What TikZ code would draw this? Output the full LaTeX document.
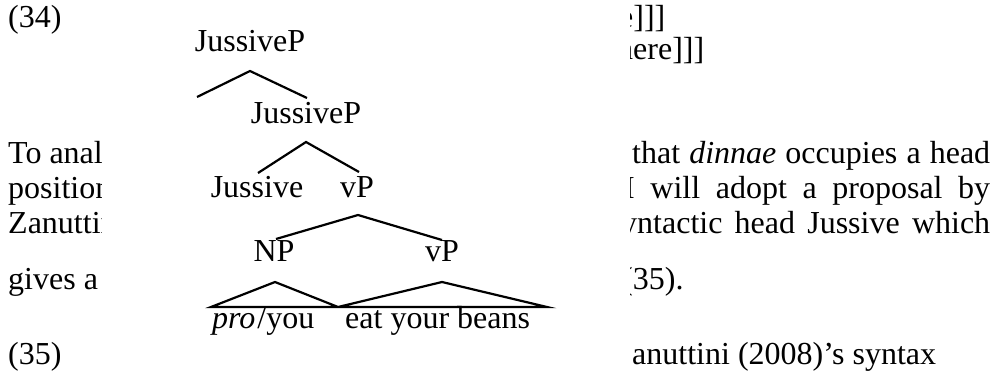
\documentclass[tikz,border=0pt]{standalone}
\usepackage{fontspec}
\setmainfont{Liberation Serif}
\begin{document}
\begin{tikzpicture}[x=1pt,y=-1pt,
  txt/.style={anchor=base west, inner sep=0pt, font=\fontsize{32}{36}\selectfont},
  lbl/.style={anchor=base, inner sep=0pt, font=\fontsize{32}{36}\selectfont},
  branch/.style={line width=2.2pt, line join=miter}]
\useasboundingbox[fill=white] (0,0) rectangle (995,381);
% left column
\node[txt] (ex34) at (8,27) {(34)};
\node[txt] (ex35) at (8,364) {(35)};
\begin{scope}
  \clip (0,0) rectangle (101,381);
  \node[txt] (l3) at (8,163) {To anal};
  \node[txt] (l4) at (8,198) {position};
  \node[txt] (l5) at (8,233) {Zanuttin};
  \node[txt] (l6) at (8,289) {gives a};
\end{scope}
% right column
\begin{scope}
  \clip (630,0) rectangle (995,381);
  \node[txt] (r1) at (619,27) {e]]]};
  \node[txt] (r2) at (617,59) {here]]]};
  \node[txt] (r3) at (632,163) {\makebox[358pt][s]{that \textit{dinnae} occupies a head}};
  \node[txt] (r4) at (624,198) {\makebox[366pt][s]{I will adopt a proposal by}};
  \node[txt] (r5) at (621,233) {\makebox[369pt][s]{yntactic head Jussive which}};
  \node[txt] (r6) at (622,289) {(35).};
  \node[txt] (r7) at (632,364) {anuttini (2008)’s syntax};
\end{scope}
% tree
\node[lbl] (jp1) at (250,51) {JussiveP};
\node[lbl] (jp2) at (306,123) {JussiveP};
\node[lbl] (jus) at (257,197) {Jussive};
\node[lbl] (vp1) at (357,197) {vP};
\node[lbl] (np) at (274,261) {NP};
\node[lbl] (vp2) at (442,261) {vP};
\node[txt] (pro) at (212,328) {\textit{pro}\kern2pt/you};
\node[txt] (eyb) at (345,328) {eat your beans};
\coordinate (a1) at (250,71);
\coordinate (a1l) at (197,97);
\coordinate (a1r) at (307,98);
\coordinate (a2) at (306,142);
\coordinate (a2l) at (258,173);
\coordinate (a2r) at (359,172);
\coordinate (a3) at (358,215);
\coordinate (a3l) at (276,239);
\coordinate (a3r) at (442,240);
\coordinate (t1) at (275,282);
\coordinate (b0) at (211,307);
\coordinate (bm) at (338,307);
\coordinate (t2) at (442,282);
\coordinate (b1) at (547,307);
\draw[branch] (a1l) -- (a1) -- (a1r);
\draw[branch] (a2l) -- (a2) -- (a2r);
\draw[branch] (a3l) -- (a3) -- (a3r);
\draw[branch] (b0) -- (t1) -- (bm) -- (t2) -- (b1) -- cycle;
\end{tikzpicture}
\end{document}
